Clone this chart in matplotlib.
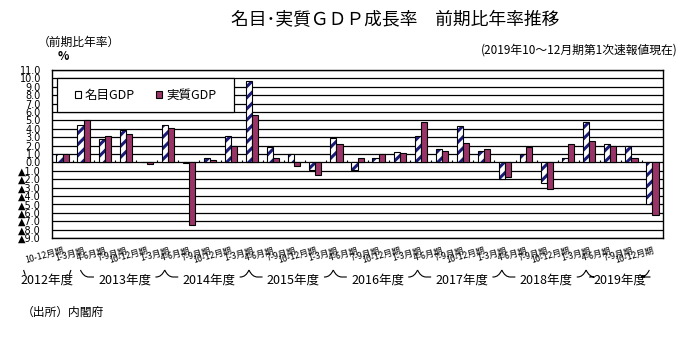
import numpy as np
import matplotlib
matplotlib.use("Agg")
import matplotlib.pyplot as plt
from matplotlib.patches import Rectangle, Patch, PathPatch
from matplotlib.path import Path
from matplotlib import transforms

plt.rcParams['font.family'] = ['Noto Sans CJK JP', 'DejaVu Sans']
plt.rcParams['hatch.linewidth'] = 2.2
plt.rcParams['hatch.color'] = '#1b1b78'

# ---- data: quarter-on-quarter growth, annualized (%) ----
quarter_labels = (["10-12月期", "1-3月期"]
                  + ["4-6月期", "7-9月期", "10-12月期", "1-3月期"] * 6
                  + ["4-6月期", "7-9月期", "10-12月期"])
fiscal_years = ["2012年度", "2013年度", "2014年度", "2015年度",
                "2016年度", "2017年度", "2018年度", "2019年度"]
quarters_per_fy = [2, 4, 4, 4, 4, 4, 4, 3]

nominal_gdp = [1.0, 4.4, 2.8, 3.85, 0.0, 4.4, -0.1, 0.5, 3.2, 9.7,
               1.8, 0.95, -0.9, 2.9, -0.9, 0.5, 1.2, 3.1, 1.55, 4.3,
               1.3, -2.0, 0.95, -2.5, 0.5, 4.8, 2.15, 2.0, -4.9]
real_gdp = [1.0, 5.0, 3.2, 3.35, -0.2, 4.05, -7.4, 0.25, 2.0, 5.6,
            0.5, -0.4, -1.55, 2.15, 0.5, 0.95, 1.07, 4.8, 1.3, 2.26,
            1.55, -1.7, 1.8, -3.2, 2.15, 2.5, 2.0, 0.5, -6.3]

series_names = ["名目GDP", "実質GDP"]
y_min, y_max = -9, 11

NAVY = '#1b1b78'
MAROON = '#9a3468'


def fmt_tick(v):
    return f"{v:.1f}" if v >= 0 else f"▲{-v:.1f}"


W, H = 694, 342
fig = plt.figure(figsize=(W / 100, H / 100), dpi=100)
ax = fig.add_axes([52 / W, 1 - 238 / H, 611 / W, 168 / H])

x = np.arange(len(nominal_gdp))
bw = 0.29

ax.set_xlim(-0.5, len(x) - 0.5)
ax.set_ylim(y_min, y_max)

yt = np.arange(y_min, y_max + 1)
ax.set_yticks(yt)
ax.set_yticklabels([fmt_tick(v) for v in yt], family=['DejaVu Sans'], fontsize=7)
ax.tick_params(axis='y', length=0, pad=8)
ax.grid(axis='y', color='black', lw=0.9)
ax.set_axisbelow(True)
for s in ax.spines.values():
    s.set_linewidth(1.0)
    s.set_zorder(5)

ax.set_xticks(x)
ax.set_xticklabels(quarter_labels, rotation=15, ha='right', va='top',
                   rotation_mode='anchor', fontsize=6.3)
ax.tick_params(axis='x', length=0, pad=6)

# category separators on the zero line
ax.vlines(np.arange(len(x) + 1) - 0.5, 0, 0.3, color='black', lw=0.8, zorder=2)

# nominal: white bars with navy diagonal stripes
ax.bar(x - bw / 2, nominal_gdp, bw, facecolor='white', edgecolor=NAVY,
       hatch='///', linewidth=0, zorder=3)
ax.bar(x - bw / 2, nominal_gdp, bw, fill=False, edgecolor='black',
       linewidth=0.8, zorder=4)
# real: maroon bars
ax.bar(x + bw / 2, real_gdp, bw, facecolor=MAROON, edgecolor='black',
       linewidth=0.8, zorder=4)

# legend box
leg_x0, leg_x1, leg_y0, leg_y1 = -0.26, 8.14, 6, 10
ax.add_patch(Rectangle((leg_x0, leg_y0), leg_x1 - leg_x0, leg_y1 - leg_y0,
                       facecolor='white', edgecolor='black', lw=0.9, zorder=2))
handles = [Patch(facecolor='white', edgecolor='black', lw=0.8),
           Patch(facecolor=MAROON, edgecolor='black', lw=0.8)]
leg = ax.legend(handles, series_names, loc='center',
                bbox_to_anchor=(leg_x0, leg_y0, leg_x1 - leg_x0, leg_y1 - leg_y0),
                bbox_transform=ax.transData, ncol=2, frameon=False,
                handlelength=0.5, handleheight=0.5, handletextpad=0.3,
                columnspacing=1.7, fontsize=9, borderaxespad=0)
leg.set_zorder(6)

# titles and notes
fig.text(395 / W, 1 - 20 / H, "名目･実質ＧＤＰ成長率　前期比年率推移",
         ha='center', va='center', fontsize=12.8)
fig.text(678 / W, 1 - 50 / H, "(2019年10～12月期第1次速報値現在)",
         ha='right', va='center', fontsize=8.5)
fig.text(38 / W, 1 - 42 / H, "（前期比年率）", ha='left', va='center', fontsize=8.5)
fig.text(63 / W, 1 - 57 / H, "%", ha='center', va='center', fontsize=8.5,
         fontweight='bold')
fig.text(22 / W, 1 - 312 / H, "（出所）内閣府", ha='left', va='center', fontsize=8.5)

# fiscal-year brackets under the quarter labels
blend = transforms.blended_transform_factory(ax.transData, fig.transFigure)
y_top, y_low, y_txt = 1 - 270 / H, 1 - 277 / H, 1 - 280 / H
fig.canvas.draw()
renderer = fig.canvas.get_renderer()
inv = ax.transData.inverted()
xmax = len(x) - 0.5
first = 0
for k, (fy, n) in enumerate(zip(fiscal_years, quarters_per_fy)):
    last = first + n - 1
    if k == 0:
        a, b = first - 1.85, last - 0.6
    else:
        a, b = first - 1.15, min(last - 0.15, xmax)
    mid = (a + b) / 2 + (0 if k == 0 else 0.1)
    t = fig.text(mid, y_txt, fy, transform=blend, ha='center', va='center',
                 fontsize=9)
    bb = t.get_window_extent(renderer)
    tl = inv.transform((bb.x0, 0))[0]
    tr = inv.transform((bb.x1, 0))[0]
    gap = 0.2
    if k == 0:
        verts = [(a, y_top), (a + 0.08, y_top - 0.014),
                 (b, y_top), (b - 0.08, y_top - 0.014)]
        codes = [Path.MOVETO, Path.LINETO, Path.MOVETO, Path.LINETO]
    else:
        verts = [(a, y_top), (a + 0.15, y_low), (a + 0.4, y_low), (tl - gap, y_low),
                 (tr + gap, y_low), (b - 0.4, y_low), (b - 0.15, y_low), (b, y_top)]
        codes = [Path.MOVETO, Path.CURVE3, Path.CURVE3, Path.LINETO,
                 Path.MOVETO, Path.LINETO, Path.CURVE3, Path.CURVE3]
    fig.add_artist(PathPatch(Path(verts, codes), transform=blend, fill=False,
                             edgecolor='black', lw=0.8))
    first = last + 1

fig.savefig("out.png", dpi=100, facecolor='white')
